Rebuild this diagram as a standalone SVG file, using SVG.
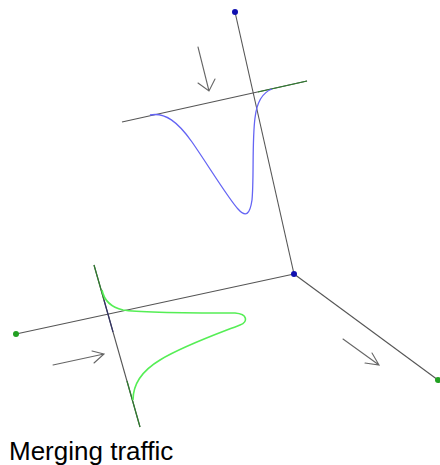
<svg xmlns="http://www.w3.org/2000/svg" width="440" height="465" viewBox="0 0 440 465">
<style>
.axis{stroke:#555;stroke-width:1.1;fill:none}
.gseg{stroke:#2f7d2f;stroke-width:1.2;fill:none}
.nseg{stroke:#333366;stroke-width:1.2;fill:none}
.arrow{stroke:#666;stroke-width:1.1;fill:none;stroke-linecap:round}
.blue{fill:#1010b0}
.green{fill:#22a022}
.label{font-family:"Liberation Sans",Arial,sans-serif;font-size:26px;fill:#000}
</style>
<rect width="440" height="465" fill="#fff"/>
<g id="connectors">
<line class="axis" x1="235" y1="12" x2="294" y2="274"/>
<line class="axis" x1="16" y1="334" x2="294" y2="274"/>
<line class="axis" x1="294" y1="274" x2="438" y2="380"/>
<line class="axis" x1="122" y1="122" x2="307" y2="81"/>
<line class="gseg" x1="258" y1="92" x2="307" y2="81"/>
<line class="axis" x1="94" y1="265" x2="140" y2="427"/>
<line class="gseg" x1="94" y1="265" x2="104" y2="300"/>
<line class="nseg" x1="104" y1="300" x2="113" y2="332"/>
<line class="gseg" x1="127" y1="381" x2="140" y2="427"/>
</g>
<g id="curve-blue">
<path d="M150,115 C165,112 178,122 192,142 C208,165 228,198 238,209 C246,218 250,214 252,200 C254,180 252,140 255,118 C257,100 264,92 272,89" fill="none" stroke="#6464f4" stroke-width="1.3"/>
</g>
<g id="curve-green">
<path d="M102,290 C104,300 110,307 123,310 C140,313 200,313 235,313 C248,314 248,322 240,325 C220,333 185,345 160,360 C140,372 133,385 133,400" fill="none" stroke="#55ee55" stroke-width="1.6"/>
</g>
<g id="arrow-top">
<path class="arrow" d="M198,47 L209,91 M198,83 L209,91 L215,79"/>
</g>
<g id="arrow-left">
<path class="arrow" d="M53,365 L104,354 M92,351 L104,354 L94,363"/>
</g>
<g id="arrow-right">
<path class="arrow" d="M343,339 L379,365 M372,353 L379,365 L365,363"/>
</g>
<g id="node-top"><circle class="blue" cx="235" cy="12" r="3"/></g>
<g id="node-center"><circle class="blue" cx="294" cy="274" r="3"/></g>
<g id="node-left"><circle class="green" cx="16" cy="334" r="3"/></g>
<g id="node-right"><circle class="green" cx="438" cy="380" r="3"/></g>
<g id="caption"><text class="label" x="9" y="460">Merging traffic</text></g>
</svg>
